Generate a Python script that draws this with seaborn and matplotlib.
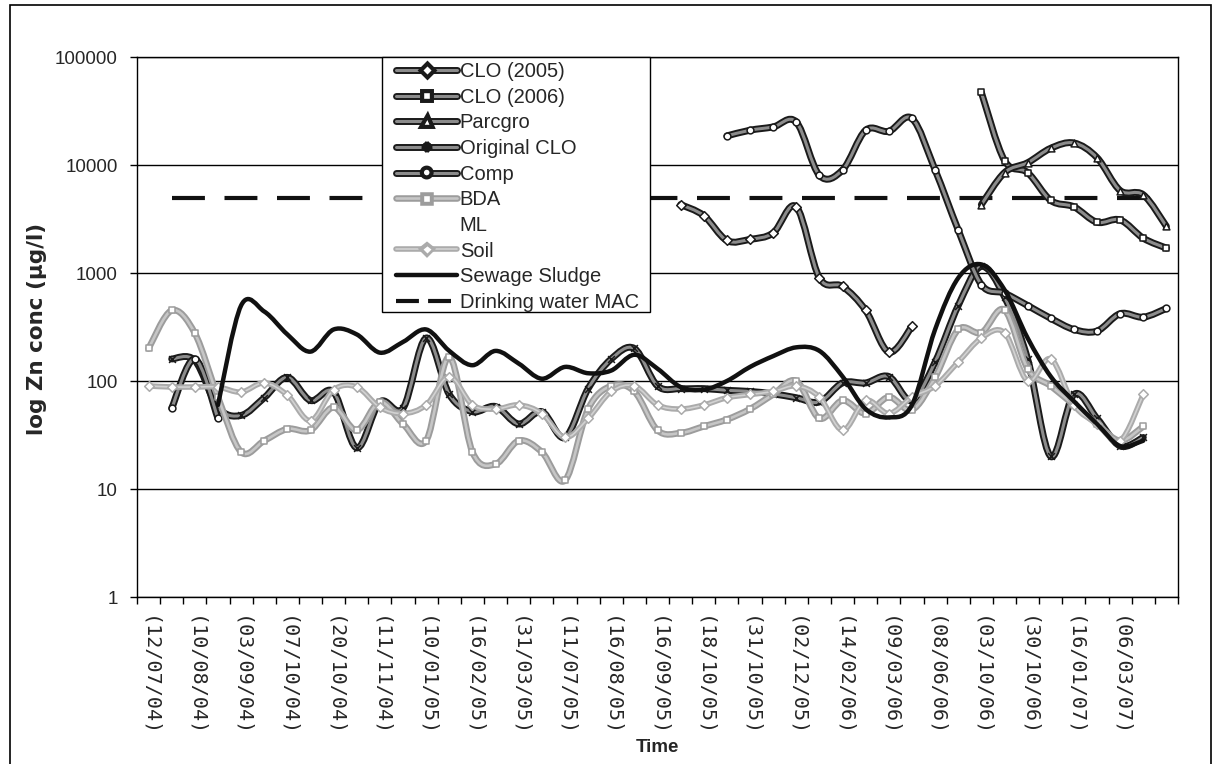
import numpy as np
import matplotlib
matplotlib.use("Agg")
import matplotlib.pyplot as plt
import seaborn as sns
from matplotlib.path import Path
from matplotlib.patches import PathPatch, Rectangle
from matplotlib.lines import Line2D
import matplotlib.patheffects as pe

# ---- data -------------------------------------------------------------
n_cat = 45
date_labels = ["(12/07/04)", "(10/08/04)", "(03/09/04)", "(07/10/04)", "(20/10/04)",
               "(11/11/04)", "(10/01/05)", "(16/02/05)", "(31/03/05)", "(11/07/05)",
               "(16/08/05)", "(16/09/05)", "(18/10/05)", "(31/10/05)", "(02/12/05)",
               "(14/02/06)", "(09/03/06)", "(08/06/06)", "(03/10/06)", "(30/10/06)",
               "(16/01/07)", "(06/03/07)"]

# each series: first category index, then values (None = no sample)
clo2005_start = 23
clo2005 = [4300, 3400, 2000, 2050, 2350, 4100, 900, 750, 450, 185, 320]

clo2006_start = 36
clo2006 = [47000, 11000, 8500, 4700, 4100, 2950, 3100, 2100, 1700]

parcgro_start = 36
parcgro = [4300, 8500, 10500, 14300, 16000, 11700, 5800, 5300, 2700]

orig_clo_start = 1
orig_clo = [160, 155, 57, 48, 70, 108, 66, 79, 24, 64, 56, 250, 75, 52, 58, 40, 52,
            30, 85, 160, 200, 90, 85, 85, 82, 80, 76, 70, 64, 96, 96, 110, 66, 150,
            500, 1150, 600, 160, 20, 75, 45, 25, 30]

comp_early_start = 1
comp_early = [56, 160, 45]

comp_start = 25
comp = [18600, 21000, 22500, 25000, 8000, 9000, 21000, 20500, 27000, 9000, 2500,
        780, 650, 500, 380, 300, 290, 420, 390, 470]

bda_start = 0
bda = [200, 450, 277, 71, 22, 28, 36, 35, 57, 35, 64, 40, 28, 167, 22, 17, 28, 22,
       12, 55, 90, 80, 35, 33, 38, 44, 55, 75, 100, 45, 66, 50, 71, 54, 108, 300,
       280, 455, 130, 90, 60, 40, 28, 38]

soil_start = 0
soil = [90, 88, 88, 88, 79, 96, 74, 43, 83, 88, 57, 50, 60, 110, 60, 55, 60, 50,
        30, 45, 80, 90, 60, 55, 60, 70, 75, 80, 90, 71, 35, 66, 50, 71, 90, 150,
        250, 280, 100, 160, 60, 40, 28, 75]

sludge_start = 3
sludge = [60, 500, 440, 270, 187, 300, 270, 183, 230, 300, 190, 140, 190, 145, 105,
          135, 118, 125, 175, 130, 88, 83, 100, 135, 170, 205, 190, 110, 55, 46, 60,
          300, 900, 1200, 700, 250, 110, 65, 40, 25, 28]

mac_value = 5000
mac_first, mac_last = 1, 44


def padded(start, values):
    out = np.full(n_cat, np.nan)
    for k, v in enumerate(values):
        if v is not None:
            out[start + k] = v
    return out


comp_all = padded(comp_start, comp)
comp_all[comp_early_start:comp_early_start + len(comp_early)] = comp_early

DARK, DARK_EDGE = "#8c8c8c", "#1a1a1a"
series = [
    # label, values, line colour, outline colour, width, marker
    ("CLO (2005)", padded(clo2005_start, clo2005), DARK, DARK_EDGE, 2.2, "D"),
    ("CLO (2006)", padded(clo2006_start, clo2006), DARK, DARK_EDGE, 2.2, "s"),
    ("Parcgro", padded(parcgro_start, parcgro), DARK, DARK_EDGE, 2.2, "^"),
    ("Original CLO", padded(orig_clo_start, orig_clo), DARK, DARK_EDGE, 2.2, "x"),
    ("Comp", comp_all, DARK, DARK_EDGE, 2.2, "o"),
    ("BDA", padded(bda_start, bda), "#c6c6c6", "#9c9c9c", 1.9, "s"),
    ("ML", np.full(n_cat, np.nan), "none", "none", 0.0, None),
    ("Soil", padded(soil_start, soil), "#d2d2d2", "#ababab", 1.2, "D"),
    ("Sewage Sludge", padded(sludge_start, sludge), "#111111", "#111111", 3.2, None),
]

# ---- figure -----------------------------------------------------------
sns.set_theme(style="white")
plt.rcParams["font.family"] = ["Liberation Sans", "DejaVu Sans"]
plt.rcParams["lines.solid_capstyle"] = "round"

W, H = 1217, 764
fig = plt.figure(figsize=(W / 100, H / 100), dpi=100)
left, right, top, bottom = 137, 1178, 57, 597
ax = fig.add_axes([left / W, 1 - bottom / H, (right - left) / W, (bottom - top) / H])
ax.set_yscale("log")
ax.set_ylim(1, 1e5)
ax.set_xlim(-0.5, n_cat - 0.5)


def smooth_runs(x, y):
    """Bezier paths (smoothed in log space) for each unbroken run of samples."""
    paths = []
    idx = np.where(~np.isnan(y))[0]
    if len(idx) == 0:
        return paths
    runs = np.split(idx, np.where(np.diff(idx) > 1)[0] + 1)
    for r in runs:
        if len(r) < 2:
            continue
        P = np.column_stack([x[r], np.log10(y[r])])
        n = len(P)
        verts = [P[0]]
        codes = [Path.MOVETO]
        for i in range(n - 1):
            p0 = P[i - 1] if i > 0 else P[i]
            p1, p2 = P[i], P[i + 1]
            p3 = P[i + 2] if i + 2 < n else P[i + 1]
            verts += [p1 + (p2 - p0) / 6, p2 - (p3 - p1) / 6, p2]
            codes += [Path.CURVE4] * 3
        V = np.array(verts)
        V[:, 1] = 10 ** V[:, 1]
        paths.append(Path(V, codes))
    return paths


xcat = np.arange(n_cat, dtype=float)
handles = []
for z, (label, vals, col, edge, lw, mk) in enumerate(series):
    if lw > 0:
        for p in smooth_runs(xcat, vals):
            patch = PathPatch(p, facecolor="none", edgecolor=col, lw=lw,
                              transform=ax.transData, zorder=3 + z * 0.1,
                              capstyle="round", joinstyle="round")
            if edge != col:
                patch.set_path_effects([pe.Stroke(linewidth=lw + 2.8, foreground=edge),
                                        pe.Normal()])
            ax.add_patch(patch)
        if mk is not None:
            ok = ~np.isnan(vals)
            sns.scatterplot(x=xcat[ok], y=vals[ok], marker=mk, s=24,
                            color="white" if mk != "x" else edge,
                            edgecolor=edge, linewidth=1.1, ax=ax,
                            zorder=3.05 + z * 0.1, legend=False)
    h = Line2D([], [], color=col if lw > 0 else "none", lw=lw,
               marker=mk if mk else "None", markersize=5,
               markerfacecolor="white", markeredgecolor=edge)
    if lw > 0 and edge != col:
        h.set_path_effects([pe.Stroke(linewidth=lw + 2.8, foreground=edge), pe.Normal()])
    handles.append((h, label))

# drinking water limit
mac_x = np.arange(mac_first, mac_last + 1)
sns.lineplot(x=mac_x, y=np.full(len(mac_x), mac_value), ax=ax, color="#111111",
             lw=3.0, linestyle=(0, (7.9, 4.7)), zorder=2.5)
mac_handle = Line2D([], [], color="#111111", lw=3.0, linestyle=(0, (5.5, 2.2)))
handles.append((mac_handle, "Drinking water MAC"))

# axes styling
ax.yaxis.grid(True, which="major", color="black", lw=1.0)
ax.xaxis.grid(False)
ax.set_axisbelow(True)
for s in ax.spines.values():
    s.set_visible(True)
    s.set_color("black")
    s.set_linewidth(1.0)
ax.set_yticks([1, 10, 100, 1000, 10000, 100000])
ax.set_yticklabels(["1", "10", "100", "1000", "10000", "100000"], fontsize=13.5)
ax.yaxis.set_minor_locator(matplotlib.ticker.NullLocator())
ax.tick_params(axis="y", which="major", direction="out", length=5, width=1,
               color="black", pad=9, left=True)
ax.set_xticks(np.arange(0, n_cat, 2)[:len(date_labels)])
ax.set_xticklabels(date_labels, rotation=270, fontsize=14.5, va="top", ha="center",
                   family="DejaVu Sans Mono")
ax.set_xticks(np.arange(-0.5, n_cat, 1), minor=True)
ax.tick_params(axis="x", which="major", length=0, pad=14, bottom=True)
ax.tick_params(axis="x", which="minor", direction="out", length=5, width=1,
               color="black", bottom=True)
ax.set_xlabel("")
ax.set_ylabel("")

fig.text(37 / W, 1 - 329 / H, "log Zn conc (µg/l)", rotation=90, ha="center",
         va="center", fontsize=15.5, fontweight="bold", family="DejaVu Sans")
fig.text(657 / W, 1 - 748 / H, "Time", ha="center", va="center", fontsize=13.5,
         fontweight="bold")

# legend: white box with a thin black border, entries laid out inside it
box = Rectangle((382 / W, 1 - 312 / H), (650 - 382) / W, (312 - 57) / H,
                transform=fig.transFigure, facecolor="white", edgecolor="black",
                lw=1.0, zorder=9)
fig.patches.append(box)
leg = fig.legend([h for h, _ in handles], [l for _, l in handles], loc="upper left",
                 bbox_to_anchor=(396 / W, 1 - 62 / H), borderaxespad=0,
                 frameon=False, fontsize=14.5, handlelength=3.05,
                 handletextpad=0.12, labelspacing=0.33, borderpad=0)
leg.set_zorder(10)

# chart-area border
fig.patches.append(Rectangle((10 / W, -0.01), (1211 - 10) / W, 1 - 5 / H + 0.01,
                             transform=fig.transFigure, fill=False, ec="black",
                             lw=1.2))

fig.savefig("out.png", dpi=100, facecolor="white")
